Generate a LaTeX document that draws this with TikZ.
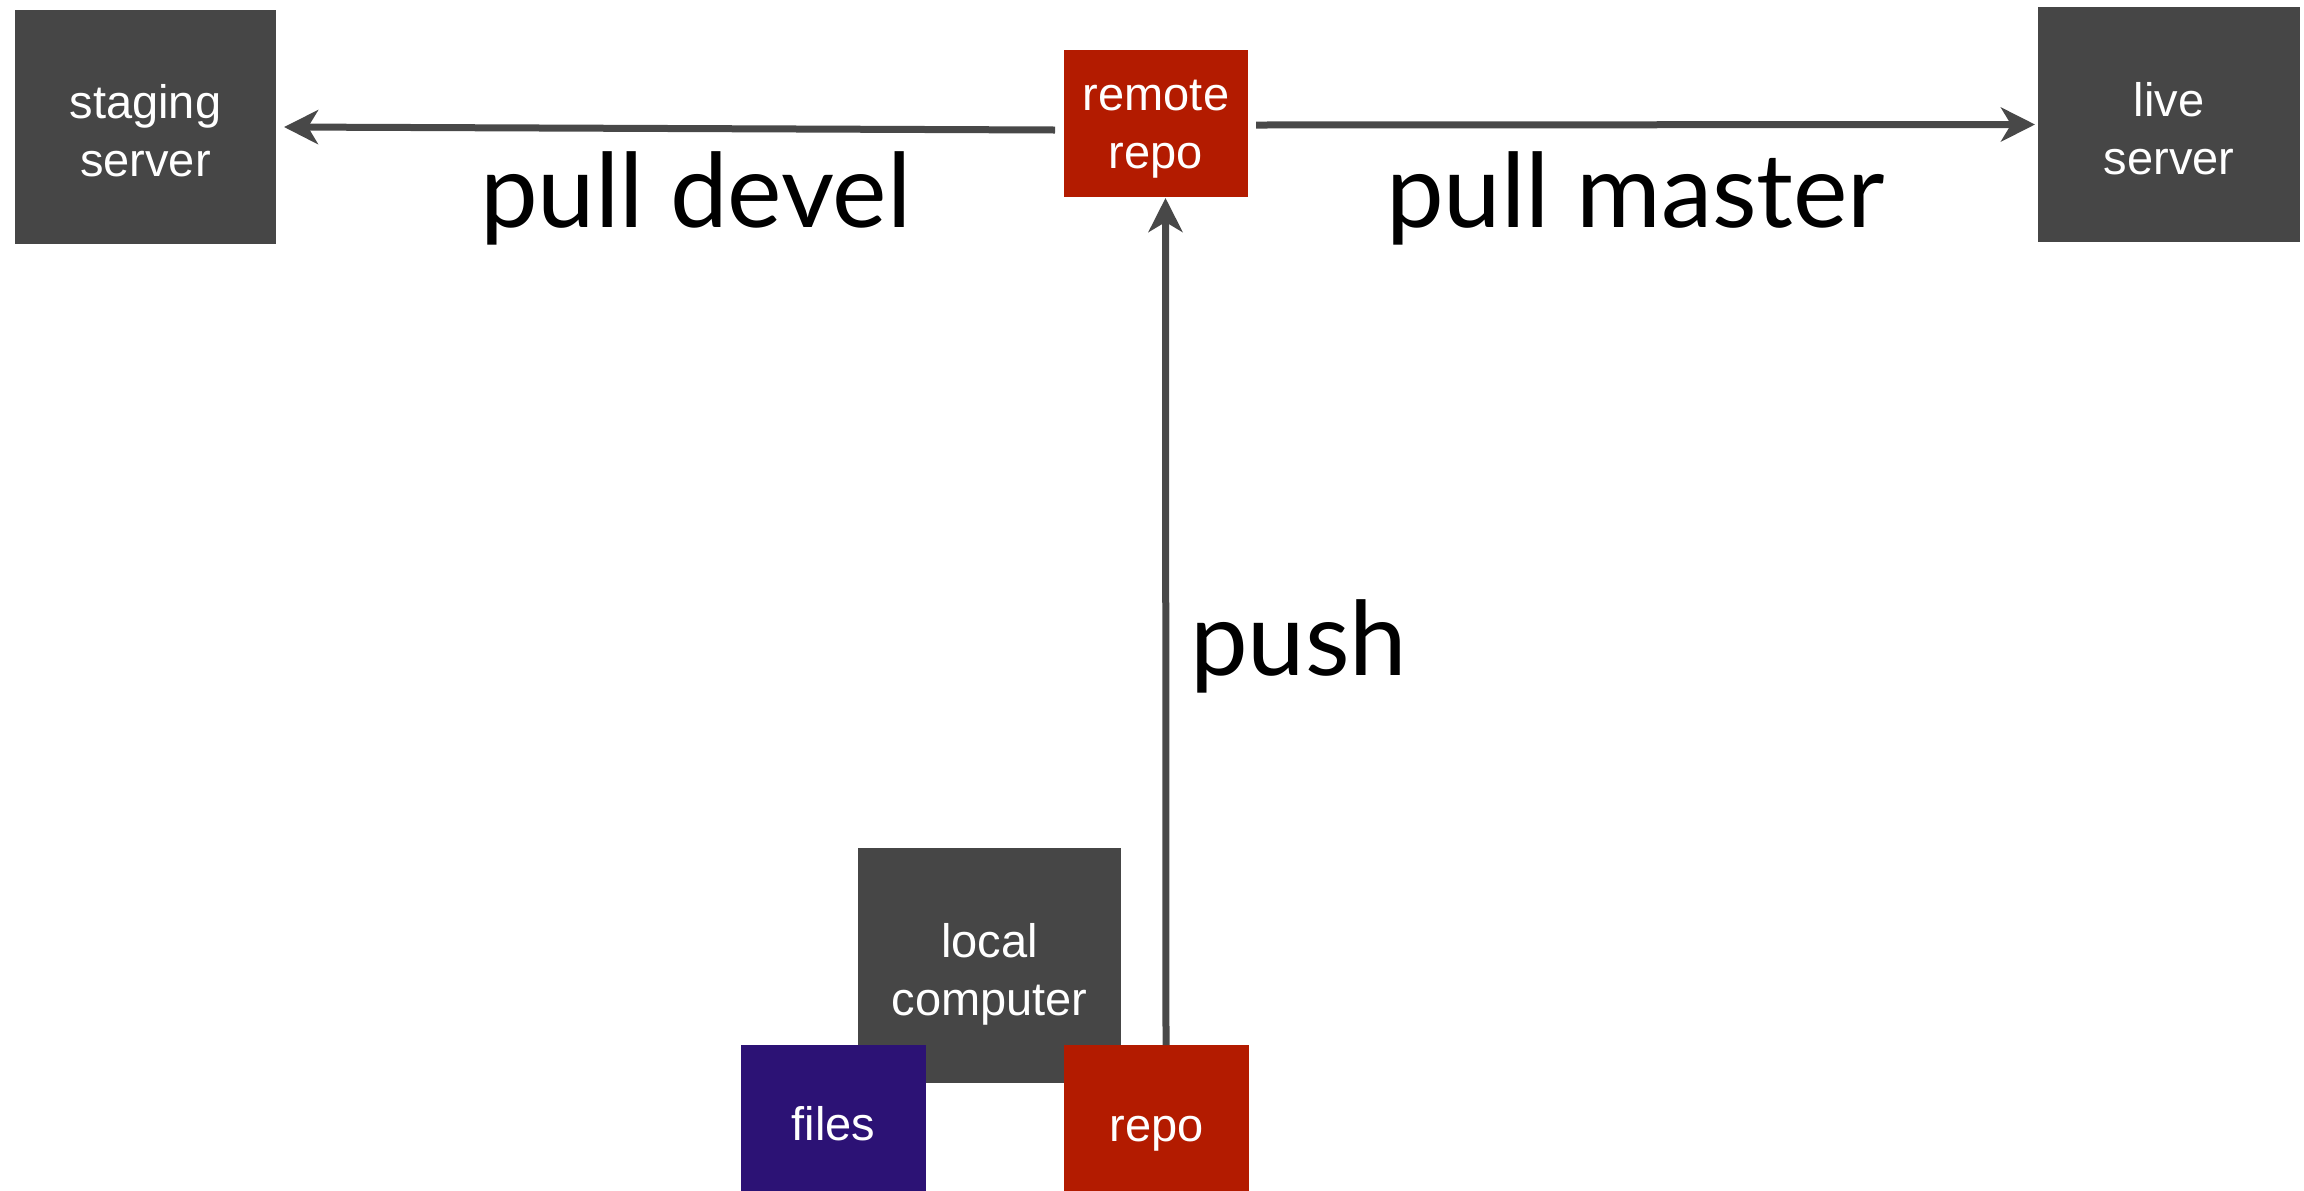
\documentclass[tikz,border=0pt]{standalone}
\usepackage{fontspec}
\setmainfont{Liberation Sans}
\newfontfamily\labelfont{Lato}
\usetikzlibrary{arrows.meta}
\definecolor{boxgray}{RGB}{70,70,70}
\definecolor{repored}{RGB}{179,27,0}
\definecolor{filespurple}{RGB}{44,18,117}
\definecolor{linegray}{RGB}{72,72,72}
\begin{document}
\begin{tikzpicture}[x=0.5pt,y=-0.5pt,
  blk/.style={rectangle, inner sep=0, outer sep=0, draw=none},
  boxtext/.style={inner sep=0, outer sep=0, text=white, align=center,
    font=\fontsize{23.5}{29}\selectfont},
  biglabel/.style={inner sep=0, outer sep=0, anchor=base west,
    font=\labelfont\fontsize{51.5}{60}\selectfont},
  conn/.style={draw=linegray, line width=3.5pt,
    -{Stealth[length=17pt,width=17pt,inset=5pt]}}]
\useasboundingbox (0,0) rectangle (2304,1190);

% servers and the remote repository
\node[blk, fill=boxgray, minimum width=130.5pt, minimum height=117pt] (staging) at (145.5,127) {};
\node[blk, fill=repored, minimum width=92pt, minimum height=73.5pt] (rr) at (1156,123.5) {};
\node[blk, fill=boxgray, minimum width=131pt, minimum height=117.5pt] (live) at (2169,124.5) {};

% the local machine with its working files and repository
\node[blk, fill=boxgray, minimum width=131.5pt, minimum height=117.5pt] (local) at (989.5,965.5) {};
\node[blk, fill=filespurple, minimum width=92.5pt, minimum height=73.5pt] (files) at (833.5,1118.5) {};
\node[blk, fill=repored, minimum width=92.5pt, minimum height=73.5pt] (repo) at (1156.5,1118.5) {};

% box captions
\node[boxtext] (staging-t) at (145.5,135.9) {\strut staging\\\strut server};
\node[boxtext] (rr-t) at (1156,127.9) {\strut remote\\\strut repo};
\node[boxtext] (live-t) at (2169,133.4) {\strut live\\\strut server};
\node[boxtext] (local-t) at (989.5,974.4) {\strut local\\\strut computer};
\node[boxtext] (files-t) at (833.5,1128.4) {\strut files};
\node[boxtext] (repo-t) at (1156.5,1129.4) {\strut repo};

% connectors
\draw[conn] ([shift={(-9,6.5)}]rr.west) -- ([shift={(8,0)}]staging.east);
\draw[conn] ([shift={(8,1.5)}]rr.east) -- ([shift={(-3,0)}]live.west);
\draw[conn] ([shift={(9.5,0)}]repo.north) -- ([shift={(9.5,1)}]rr.south);

% connector labels
\node[biglabel] (lbl-devel) at (480,227) {pull devel};
\node[biglabel] (lbl-master) at (1386,227) {pull master};
\node[biglabel] (lbl-push) at (1190,675) {push};
\end{tikzpicture}
\end{document}
